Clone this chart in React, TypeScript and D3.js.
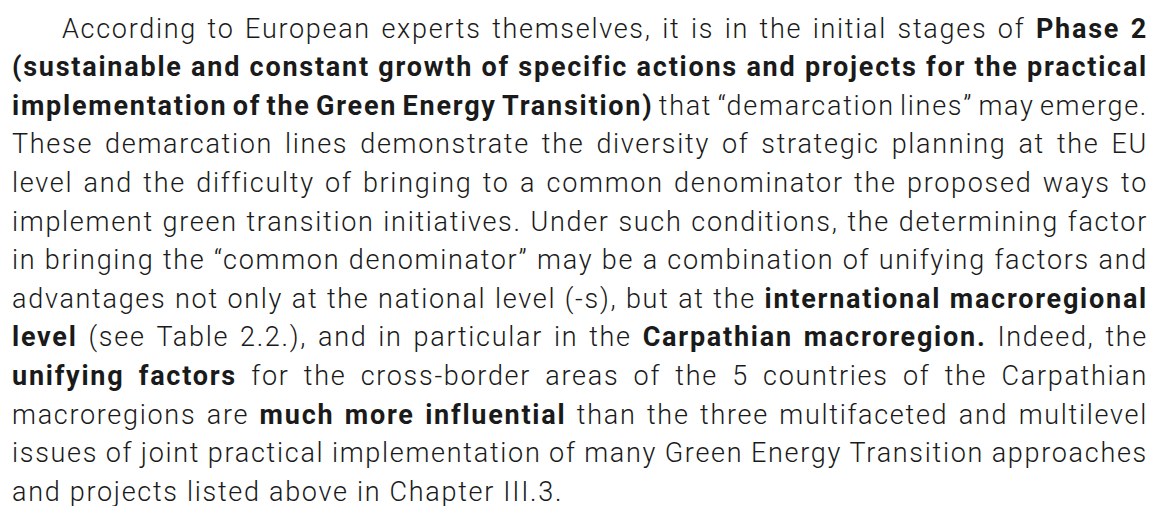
import { useEffect, useRef } from 'react'
import * as d3 from 'd3'

// Paragraph lines, ** toggles bold
const lines: string[] = [
  'According to European experts themselves, it is in the initial stages of **Phase 2**',
  '**(sustainable and constant growth of specific actions and projects for the practical**',
  '**implementation of the Green Energy Transition)** that “demarcation lines” may emerge.',
  'These demarcation lines demonstrate the diversity of strategic planning at the EU',
  'level and the difficulty of bringing to a common denominator the proposed ways to',
  'implement green transition initiatives. Under such conditions, the determining factor',
  'in bringing the “common denominator” may be a combination of unifying factors and',
  'advantages not only at the national level (-s), but at the **international macroregional**',
  '**level** (see Table 2.2.), and in particular in the **Carpathian macroregion.** Indeed, the',
  '**unifying factors** for the cross-border areas of the 5 countries of the Carpathian',
  'macroregions are **much more influential** than the three multifaceted and multilevel',
  'issues of joint practical implementation of many Green Energy Transition approaches',
  'and projects listed above in Chapter III.3.',
]

const W = 1157
const H = 506

interface Word {
  text: string
  bold: boolean
}

function parseLine(line: string): Word[] {
  const words: Word[] = []
  line.split('**').forEach((seg, i) => {
    seg.split(' ').filter(s => s.length > 0).forEach(t => {
      words.push({ text: t, bold: i % 2 === 1 })
    })
  })
  return words
}

export default function App() {
  const svgRef = useRef<SVGSVGElement>(null)

  useEffect(() => {
    if (!svgRef.current) return
    const svg = d3.select(svgRef.current)
    svg.selectAll('*').remove()

    const fontSize = 27
    const left = 12
    const right = 1148
    const indent = 50
    const lastLineWidth = 551

    const y = d3.scaleLinear().domain([0, lines.length - 1]).range([37.5, 500.7])

    const g = svg.append('g')
      .style('font-family', 'Roboto, sans-serif')
      .style('font-size', `${fontSize}px`)
      .attr('fill', '#1a1a1a')

    // measure helper
    const probe = g.append('text').attr('x', -1000).attr('y', -1000)
    const measure = (txt: string, bold: boolean, ls: number) => {
      probe.text(txt)
        .attr('font-weight', bold ? 700 : 300)
        .attr('letter-spacing', ls)
      return (probe.node() as SVGTextElement).getComputedTextLength()
    }

    // tracking: regular from the last (unjustified) line, bold from the all-bold line 2
    const last = lines[lines.length - 1]
    const ls = (lastLineWidth - measure(last, false, 0)) / last.length
    const boldLine = lines[1].split('**').join('')
    const lsBold = (right - left - measure(boldLine, true, 0)) / boldLine.length
    const spaceW = measure('a a', false, ls) - measure('aa', false, ls)

    lines.forEach((line, i) => {
      const words = parseLine(line)
      const widths = words.map(w => measure(w.text, w.bold, w.bold ? lsBold : ls))
      const x0 = i === 0 ? left + indent : left
      const total = d3.sum(widths)
      const isLast = i === lines.length - 1
      const gap = isLast ? spaceW : (right - x0 - total) / (words.length - 1)
      let x = x0
      words.forEach((w, j) => {
        g.append('text')
          .attr('x', x)
          .attr('y', y(i))
          .attr('font-weight', w.bold ? 700 : 300)
          .attr('letter-spacing', w.bold ? lsBold : ls)
          .text(w.text)
        x += widths[j] + gap
      })
    })

    probe.remove()
  }, [])

  return (
    <svg
      ref={svgRef}
      width={W}
      height={H}
      style={{ position: 'absolute', left: 0, top: 0, background: '#fff' }}
    />
  )
}
